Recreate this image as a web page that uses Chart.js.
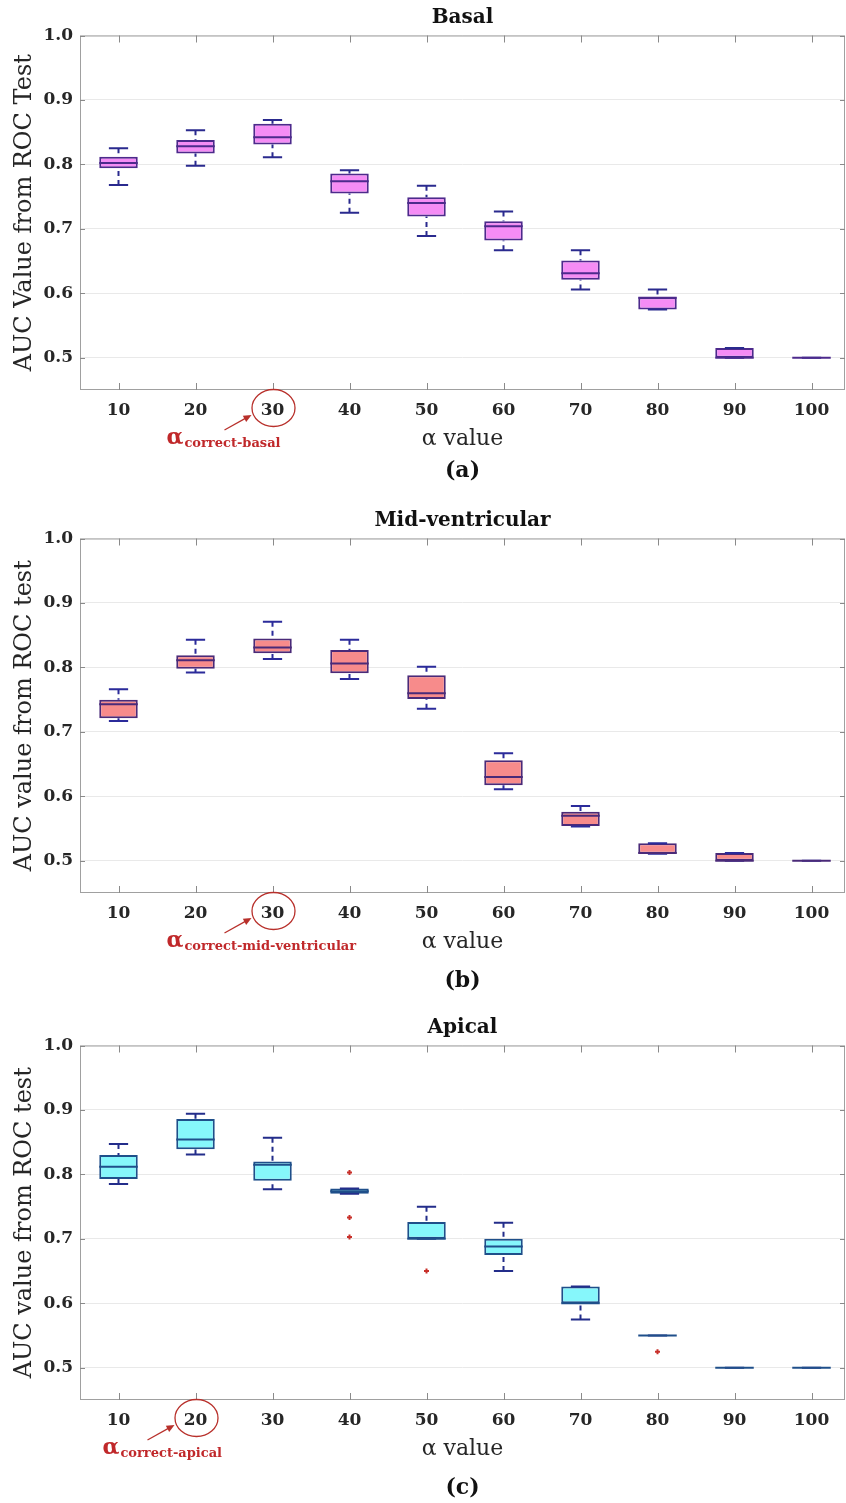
<!DOCTYPE html>
<html>
<head>
<meta charset="utf-8">
<title>AUC versus alpha</title>
<script src="https://cdn.jsdelivr.net/npm/chart.js@4.4.1/dist/chart.umd.min.js"></script>
<style>
  html, body { margin: 0; padding: 0; background: #fff; overflow: hidden; }
  #wrap { position: relative; width: 846px; height: 1503px; }
  .panel { position: absolute; left: 0; width: 846px; }
</style>
</head>
<body>
<div id="wrap">
  <div class="panel" style="top:0;height:484px"><canvas id="basal"></canvas></div>
  <div class="panel" style="top:503px;height:491px"><canvas id="mid"></canvas></div>
  <div class="panel" style="top:1010px;height:491px"><canvas id="apical"></canvas></div>
</div>
<script>
// alpha values on the x axis and AUC ticks on the y axis
const alphaValues = [10, 20, 30, 40, 50, 60, 70, 80, 90, 100];
const aucTicks = [0.5, 0.6, 0.7, 0.8, 0.9, 1.0];

// Basal: five-number summaries per alpha
const basalMin    = [0.768, 0.798, 0.811, 0.725, 0.689, 0.667, 0.606, 0.575, 0.500, 0.500];
const basalQ1     = [0.794, 0.817, 0.831, 0.755, 0.719, 0.682, 0.621, 0.575, 0.500, 0.500];
const basalMedian = [0.802, 0.828, 0.842, 0.774, 0.740, 0.704, 0.631, 0.593, 0.500, 0.500];
const basalQ3     = [0.812, 0.838, 0.863, 0.786, 0.749, 0.712, 0.651, 0.594, 0.515, 0.500];
const basalMax    = [0.825, 0.853, 0.869, 0.791, 0.767, 0.727, 0.667, 0.606, 0.515, 0.500];

// Mid-ventricular
const midMin    = [0.717, 0.792, 0.813, 0.782, 0.736, 0.611, 0.553, 0.511, 0.500, 0.500];
const midQ1     = [0.721, 0.798, 0.822, 0.791, 0.751, 0.617, 0.554, 0.511, 0.500, 0.500];
const midMedian = [0.743, 0.811, 0.831, 0.806, 0.760, 0.630, 0.570, 0.512, 0.500, 0.500];
const midQ3     = [0.750, 0.819, 0.845, 0.827, 0.788, 0.656, 0.576, 0.527, 0.512, 0.500];
const midMax    = [0.766, 0.843, 0.871, 0.843, 0.801, 0.667, 0.585, 0.527, 0.512, 0.500];

// Apical
const apicalMin    = [0.785, 0.831, 0.777, 0.770, 0.700, 0.650, 0.575, 0.550, 0.500, 0.500];
const apicalQ1     = [0.793, 0.839, 0.790, 0.770, 0.700, 0.675, 0.600, 0.550, 0.500, 0.500];
const apicalMedian = [0.812, 0.854, 0.815, 0.774, 0.700, 0.688, 0.600, 0.550, 0.500, 0.500];
const apicalQ3     = [0.830, 0.886, 0.820, 0.778, 0.726, 0.700, 0.626, 0.550, 0.500, 0.500];
const apicalMax    = [0.847, 0.894, 0.857, 0.778, 0.750, 0.725, 0.626, 0.550, 0.500, 0.500];
const apicalOutlierAlpha = [40, 40, 40, 50, 80];
const apicalOutlierAuc   = [0.803, 0.733, 0.703, 0.650, 0.525];

const SERIF = "'DejaVu Serif', serif";
const INK = '#262626';
const MARK_RED = '#b8302b';

const panels = [
  {
    canvas: 'basal', title: 'Basal', yTitle: 'AUC Value from ROC Test', caption: '(a)',
    min: basalMin, q1: basalQ1, median: basalMedian, q3: basalQ3, max: basalMax,
    outX: [], outY: [],
    fill: '#f58cf5', edge: '#4d2a8c', whisker: '#2a2a8e',
    best: 30, bestLabel: 'correct-basal', labelShift: -106, captionTop: 6
  },
  {
    canvas: 'mid', title: 'Mid-ventricular', yTitle: 'AUC value from ROC test', caption: '(b)',
    min: midMin, q1: midQ1, median: midMedian, q3: midQ3, max: midMax,
    outX: [], outY: [],
    fill: '#f78b8b', edge: '#4a2a78', whisker: '#2b2b9a',
    best: 30, bestLabel: 'correct-mid-ventricular', labelShift: -106, captionTop: 13
  },
  {
    canvas: 'apical', title: 'Apical', yTitle: 'AUC value from ROC test', caption: '(c)',
    min: apicalMin, q1: apicalQ1, median: apicalMedian, q3: apicalQ3, max: apicalMax,
    outX: apicalOutlierAlpha, outY: apicalOutlierAuc,
    fill: '#86f7fb', edge: '#1f4f8a', whisker: '#232d8a',
    best: 20, bestLabel: 'correct-apical', labelShift: -93, captionTop: 13
  }
];

// axes box with inward tick marks on all four sides
const framePlugin = {
  id: 'frame',
  afterDraw(chart) {
    const { ctx, chartArea: { left, right, top, bottom }, scales: { x, y } } = chart;
    ctx.save();
    ctx.strokeStyle = '#a0a0a0';
    ctx.lineWidth = 1;
    ctx.strokeRect(left + 0.5, top + 0.5, right - left - 1, bottom - top - 1);
    ctx.strokeStyle = '#8a8a8a';
    ctx.beginPath();
    x.ticks.forEach(t => {
      const px = Math.round(x.getPixelForValue(t.value)) + 0.5;
      ctx.moveTo(px, bottom); ctx.lineTo(px, bottom - 7);
      ctx.moveTo(px, top); ctx.lineTo(px, top + 7);
    });
    y.ticks.forEach(t => {
      const py = Math.round(y.getPixelForValue(t.value)) + 0.5;
      ctx.moveTo(left, py); ctx.lineTo(left + 5, py);
      ctx.moveTo(right, py); ctx.lineTo(right - 5, py);
    });
    ctx.stroke();
    ctx.restore();
  }
};

// whiskers, caps and median lines around the floating-bar boxes
function boxPartsPlugin(p) {
  return {
    id: 'boxParts',
    afterDatasetsDraw(chart) {
      const { ctx, scales: { y } } = chart;
      const meta = chart.getDatasetMeta(0);
      ctx.save();
      ctx.lineWidth = 2;
      p.q1.forEach((_, i) => {
        const bar = meta.data[i];
        const cx = bar.x;
        const half = bar.width / 2;
        const capHalf = bar.width / 4;
        const yMin = y.getPixelForValue(p.min[i]);
        const yQ1 = y.getPixelForValue(p.q1[i]);
        const yMed = y.getPixelForValue(p.median[i]);
        const yQ3 = y.getPixelForValue(p.q3[i]);
        const yMax = y.getPixelForValue(p.max[i]);
        ctx.strokeStyle = p.whisker;
        ctx.setLineDash([5, 4]);
        ctx.beginPath();
        if (p.max[i] > p.q3[i]) { ctx.moveTo(cx, yMax); ctx.lineTo(cx, yQ3); }
        if (p.min[i] < p.q1[i]) { ctx.moveTo(cx, yMin); ctx.lineTo(cx, yQ1); }
        ctx.stroke();
        ctx.setLineDash([]);
        ctx.beginPath();
        ctx.moveTo(cx - capHalf, yMax); ctx.lineTo(cx + capHalf, yMax);
        ctx.moveTo(cx - capHalf, yMin); ctx.lineTo(cx + capHalf, yMin);
        ctx.stroke();
        ctx.strokeStyle = p.edge;
        ctx.beginPath();
        ctx.moveTo(cx - half, yMed); ctx.lineTo(cx + half, yMed);
        ctx.stroke();
      });
      ctx.restore();
    }
  };
}

// red circle around the chosen alpha tick, an arrow and its label
function bestAlphaPlugin(p) {
  return {
    id: 'bestAlpha',
    afterDraw(chart) {
      const { ctx, chartArea: { bottom }, scales: { x } } = chart;
      const cx = x.getPixelForValue(p.best);
      ctx.save();
      ctx.strokeStyle = MARK_RED;
      ctx.fillStyle = MARK_RED;
      ctx.lineWidth = 1.3;
      ctx.beginPath();
      ctx.ellipse(cx + 1, bottom + 18, 21.5, 18.5, 0, 0, Math.PI * 2);
      ctx.stroke();
      const x0 = cx - 48, y0 = bottom + 40, x1 = cx - 21, y1 = bottom + 25;
      const ang = Math.atan2(y1 - y0, x1 - x0);
      ctx.beginPath();
      ctx.moveTo(x0, y0);
      ctx.lineTo(x1 - 5 * Math.cos(ang), y1 - 5 * Math.sin(ang));
      ctx.stroke();
      ctx.beginPath();
      ctx.moveTo(x1, y1);
      ctx.lineTo(x1 - 8 * Math.cos(ang) + 3.5 * Math.sin(ang), y1 - 8 * Math.sin(ang) - 3.5 * Math.cos(ang));
      ctx.lineTo(x1 - 8 * Math.cos(ang) - 3.5 * Math.sin(ang), y1 - 8 * Math.sin(ang) + 3.5 * Math.cos(ang));
      ctx.closePath();
      ctx.fill();
      const lx = cx + p.labelShift;
      ctx.fillStyle = '#c0282a';
      ctx.textBaseline = 'alphabetic';
      ctx.textAlign = 'left';
      ctx.font = 'bold 22px ' + SERIF;
      ctx.fillText('α', lx, bottom + 54);
      const w = ctx.measureText('α').width;
      ctx.font = 'bold 13px ' + SERIF;
      ctx.fillText(p.bestLabel, lx + w + 1, bottom + 57);
      ctx.restore();
    }
  };
}

panels.forEach(p => {
  const datasets = [{
    type: 'bar',
    data: alphaValues.map((a, i) => ({ x: a, y: [p.q1[i], p.q3[i]] })),
    backgroundColor: p.fill,
    borderColor: p.edge,
    borderWidth: 2,
    borderSkipped: false,
    barPercentage: 0.5,
    categoryPercentage: 1
  }];
  if (p.outX.length) {
    datasets.push({
      type: 'scatter',
      data: p.outX.map((a, i) => ({ x: a, y: p.outY[i] })),
      pointStyle: 'cross',
      pointRadius: 2.5,
      borderWidth: 2,
      borderColor: '#c8302a',
      backgroundColor: '#c8302a'
    });
  }
  new Chart(document.getElementById(p.canvas), {
    type: 'bar',
    data: { datasets },
    plugins: [framePlugin, boxPartsPlugin(p), bestAlphaPlugin(p)],
    options: {
      responsive: true,
      maintainAspectRatio: false,
      animation: false,
      events: [],
      layout: { autoPadding: false, padding: { left: 0, right: 1, top: 0, bottom: 0 } },
      plugins: {
        legend: { display: false },
        tooltip: { enabled: false },
        title: {
          display: true, text: p.title, color: '#111', fullSize: false,
          font: { family: SERIF, size: 20, weight: 'bold', lineHeight: '24px' },
          padding: { top: 6, bottom: 5.5 }
        },
        subtitle: {
          display: true, position: 'bottom', text: p.caption, color: '#111', fullSize: false,
          font: { family: SERIF, size: 22, weight: 'bold', lineHeight: '26px' },
          padding: { top: p.captionTop, bottom: 0 }
        }
      },
      scales: {
        x: {
          type: 'linear', min: 5, max: 104.35, offset: false,
          grid: { display: false, drawTicks: false, offset: false },
          border: { display: false },
          afterBuildTicks: s => { s.ticks = alphaValues.map(v => ({ value: v })); },
          afterFit: s => { s.height = 62; },
          ticks: {
            font: { family: SERIF, size: 17, weight: 'bold' }, color: INK,
            padding: 10, autoSkip: false, maxRotation: 0,
            callback: v => String(v)
          },
          title: {
            display: true, text: 'α value', color: INK,
            font: { family: SERIF, size: 22, lineHeight: '26px' },
            padding: { top: 0, bottom: 0 }
          }
        },
        y: {
          min: 0.45, max: 1.0, beginAtZero: false,
          grid: { color: '#e9e9e9', drawTicks: false, lineWidth: 1 },
          border: { display: false },
          afterBuildTicks: s => { s.ticks = aucTicks.map(v => ({ value: v })); },
          afterFit: s => { s.width = 80; },
          ticks: {
            font: { family: SERIF, size: 17, weight: 'bold' }, color: INK,
            padding: 7, callback: v => Number(v).toFixed(1)
          },
          title: {
            display: true, text: p.yTitle, color: INK,
            font: { family: SERIF, size: 24, lineHeight: '28px' },
            padding: { top: 11, bottom: 0 }
          }
        }
      }
    }
  });
});
</script>
</body>
</html>
